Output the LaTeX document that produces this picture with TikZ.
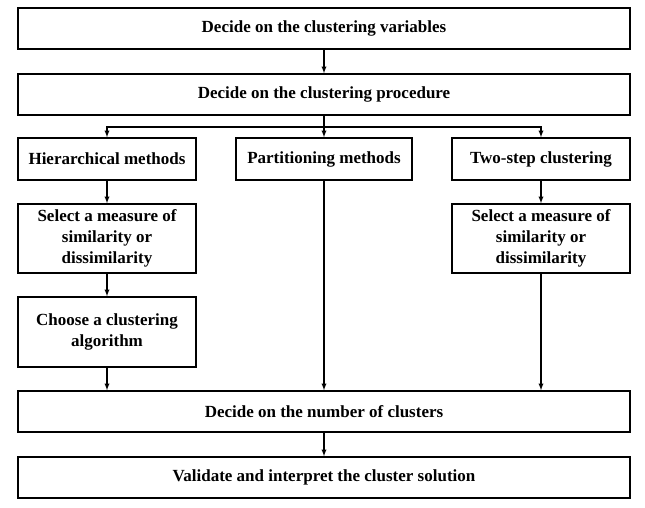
\documentclass[tikz,border=0pt]{standalone}
\usepackage{fontspec}
\setmainfont{Liberation Serif}
\usetikzlibrary{arrows,positioning}

\begin{document}
\begin{tikzpicture}[x=1pt, y=-1pt, >=latex,
  box/.style={draw, line width=1.6pt, minimum height=41pt, inner sep=0pt, align=center,
    font=\bfseries\fontsize{17}{21.3}\selectfont},
  wide/.style={box, minimum width=612pt},
  small/.style={box, minimum width=178pt},
  link/.style={line width=1.3pt}]
  \useasboundingbox (0,0) rectangle (645,507);
  \node[wide] (vars) at (324,28.5) {Decide on the clustering variables};
  \node[wide] (proc) at (324,94.5) {Decide on the clustering procedure};
  \node[small, minimum height=42pt] (hier) at (107,159) {Hierarchical methods};
  \node[small, minimum width=176pt, minimum height=42pt] (part) at (324,159) {Partitioning methods};
  \node[small, minimum height=42pt] (two) at (541,159) {Two-step clustering};
  \node[small, minimum height=69pt] (selL) at (107,238.5) {Select a measure of\\similarity or\\dissimilarity};
  \node[small, minimum height=69pt] (selR) at (541,238.5) {Select a measure of\\similarity or\\dissimilarity};
  \node[small, minimum height=70pt] (choose) at (107,332) {Choose a clustering\\algorithm};
  \node[wide] (number) at (324,411.5) {Decide on the number of clusters};
  \node[wide] (valid) at (324,477.5) {Validate and interpret the cluster solution};
  \coordinate (split) at (324,127);
  % connectors
  \draw[link,->] (vars) -- (proc);
  \draw[link] (proc) -- (split);
  \draw[link,->] (split) -| (hier);
  \draw[link,->] (split) -- (part);
  \draw[link,->] (split) -| (two);
  \draw[link,->] (hier) -- (selL);
  \draw[link,->] (selL) -- (choose);
  \draw[link,->] (two) -- (selR);
  \draw[link,->] (choose) -- (choose |- number.north);
  \draw[link,->] (part) -- (number);
  \draw[link,->] (selR) -- (selR |- number.north);
  \draw[link,->] (number) -- (valid);
\end{tikzpicture}
\end{document}
